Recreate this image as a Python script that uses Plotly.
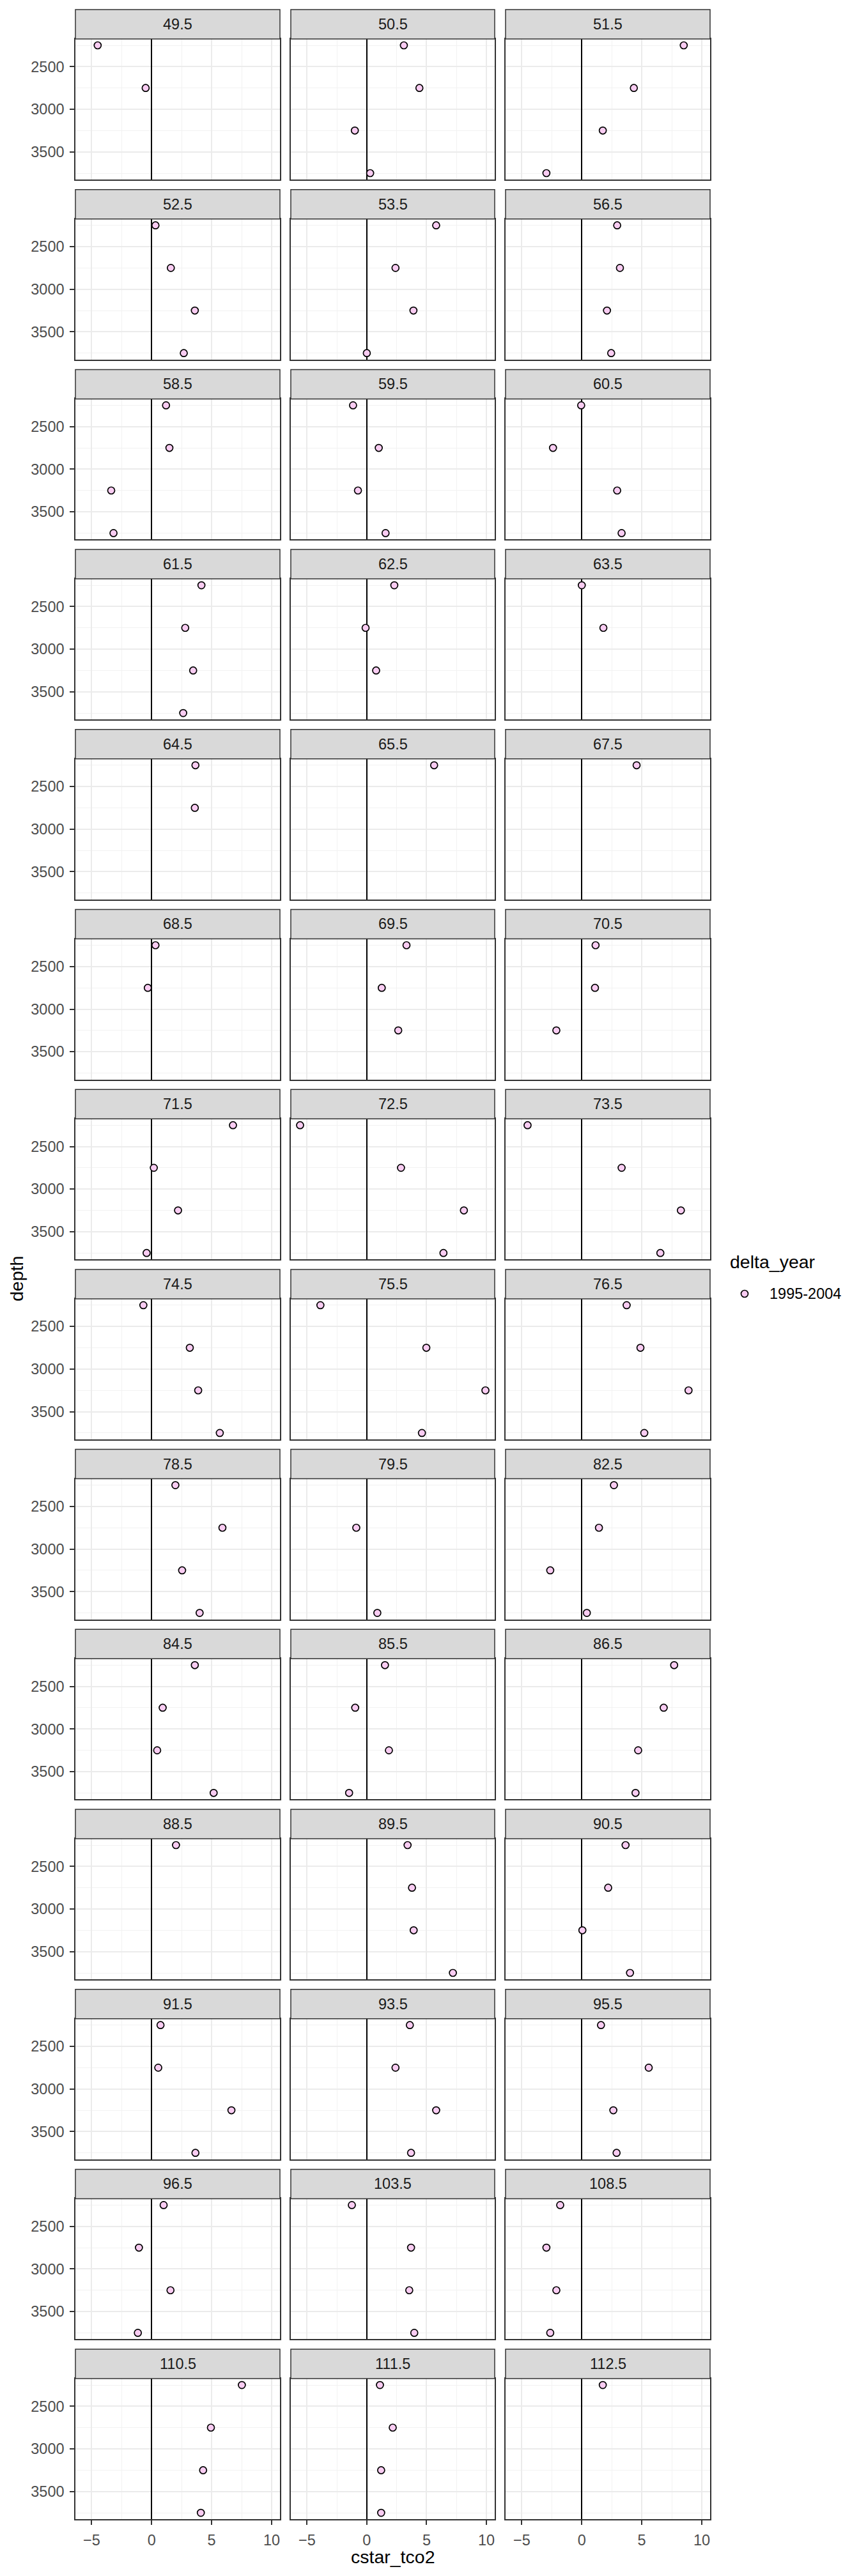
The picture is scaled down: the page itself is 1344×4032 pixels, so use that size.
import plotly.graph_objects as go

# ---------------- data ----------------
panels = ["49.5", "50.5", "51.5", "52.5", "53.5", "56.5", "58.5", "59.5", "60.5",
          "61.5", "62.5", "63.5", "64.5", "65.5", "67.5", "68.5", "69.5", "70.5",
          "71.5", "72.5", "73.5", "74.5", "75.5", "76.5", "78.5", "79.5", "82.5",
          "84.5", "85.5", "86.5", "88.5", "89.5", "90.5", "91.5", "93.5", "95.5",
          "96.5", "103.5", "108.5", "110.5", "111.5", "112.5"]

point_panel = (
    ["49.5"] * 2 + ["50.5"] * 4 + ["51.5"] * 4 + ["52.5"] * 4 + ["53.5"] * 4 + ["56.5"] * 4 +
    ["58.5"] * 4 + ["59.5"] * 4 + ["60.5"] * 4 + ["61.5"] * 4 + ["62.5"] * 3 + ["63.5"] * 2 +
    ["64.5"] * 2 + ["65.5"] * 1 + ["67.5"] * 1 + ["68.5"] * 2 + ["69.5"] * 3 + ["70.5"] * 3 +
    ["71.5"] * 4 + ["72.5"] * 4 + ["73.5"] * 4 + ["74.5"] * 4 + ["75.5"] * 4 + ["76.5"] * 4 +
    ["78.5"] * 4 + ["79.5"] * 2 + ["82.5"] * 4 + ["84.5"] * 4 + ["85.5"] * 4 + ["86.5"] * 4 +
    ["88.5"] * 1 + ["89.5"] * 4 + ["90.5"] * 4 + ["91.5"] * 4 + ["93.5"] * 4 + ["95.5"] * 4 +
    ["96.5"] * 4 + ["103.5"] * 4 + ["108.5"] * 4 + ["110.5"] * 4 + ["111.5"] * 4 + ["112.5"] * 1
)

point_depth = (
    [2250, 2750] + [2250, 2750, 3250, 3750] * 9 + [2250, 2750, 3250] + [2250, 2750] +
    [2250, 2750] + [2250] + [2250] + [2250, 2750] + [2250, 2750, 3250] * 2 +
    [2250, 2750, 3250, 3750] * 7 + [2750, 3750] + [2250, 2750, 3250, 3750] * 4 +
    [2250] + [2250, 2750, 3250, 3750] * 10 + [2250]
)

point_cstar = [
    -4.5, -0.5,
    3.1, 4.4, -1.0, 0.28,
    8.5, 4.34, 1.75, -2.95,
    0.32, 1.6, 3.6, 2.68,
    5.8, 2.4, 3.9, 0.0,
    2.95, 3.18, 2.1, 2.45,
    1.2, 1.48, -3.37, -3.18,
    -1.15, 1.0, -0.74, 1.57,
    -0.05, -2.4, 2.95, 3.32,
    4.15, 2.8, 3.46, 2.63,
    2.3, -0.1, 0.78,
    0.0, 1.8,
    3.65, 3.6,
    5.63,
    4.57,
    0.32, -0.32,
    3.32, 1.25, 2.63,
    1.15, 1.1, -2.12,
    6.78, 0.18, 2.2, -0.42,
    -5.58, 2.86, 8.12, 6.41,
    -4.52, 3.32, 8.26, 6.55,
    -0.69, 3.18, 3.88, 5.68,
    -3.88, 4.98, 9.92, 4.61,
    3.74, 4.89, 8.9, 5.21,
    1.98, 5.9, 2.54, 4.0,
    -0.88, 0.88,
    2.68, 1.43, -2.63, 0.42,
    3.6, 0.92, 0.46, 5.17,
    1.52, -0.97, 1.85, -1.48,
    7.7, 6.83, 4.7, 4.48,
    2.03,
    3.41, 3.78, 3.92, 7.2,
    3.65, 2.2, 0.05, 4.02,
    0.74, 0.55, 6.65, 3.65,
    3.6, 2.4, 5.8, 3.7,
    1.6, 5.58, 2.63, 2.9,
    1.0, -1.06, 1.57, -1.15,
    -1.25, 3.7, 3.55, 3.97,
    -1.8, -2.95, -2.12, -2.63,
    7.52, 4.94, 4.29, 4.1,
    1.1, 2.17, 1.2, 1.2,
    1.75,
]

x_ticks = [-5, 0, 5, 10]
x_minor_ticks = [-2.5, 2.5, 7.5]
y_ticks = [2500, 3000, 3500]
y_minor_ticks = [2250, 2750, 3250, 3750]
legend_title = "delta_year"
legend_label = "1995-2004"
x_title = "cstar_tco2"
y_title = "depth"

# ---------------- layout geometry (pixels) ----------------
W, H = 1344, 4032
col_x = [(118, 438), (455, 774), (791, 1111)]
row_top0, row_pitch, strip_h, panel_h = 15.0, 281.7, 46.0, 220.0
ncol = 3
nrow = (len(panels) + ncol - 1) // ncol

FONT = "Liberation Sans, Arial, Helvetica, sans-serif"
small = 23.5
big = 28.5
fill_col = "#F9CCF2"

def px_x(v):
    return v / W

def px_y(v):
    return 1 - v / H

# scale ranges with ggplot-style 5% expansion
xmin, xmax = min(point_cstar), max(point_cstar)
xpad = (xmax - xmin) * 0.05
x_range = [xmin - xpad, xmax + xpad]
dmin, dmax = min(point_depth), max(point_depth)
dpad = (dmax - dmin) * 0.05
y_range = [dmax + dpad, dmin - dpad]  # reversed

fig = go.Figure()
shapes = []
annotations = []
layout_axes = {}

for i, p in enumerate(panels):
    r, c = divmod(i, ncol)
    k = i + 1
    xa = "x" if k == 1 else f"x{k}"
    ya = "y" if k == 1 else f"y{k}"
    xs = [v for pp, v in zip(point_panel, point_cstar) if pp == p]
    ys = [d for pp, d in zip(point_panel, point_depth) if pp == p]
    fig.add_trace(go.Scatter(
        x=xs, y=ys, mode="markers", xaxis=xa, yaxis=ya, showlegend=False,
        marker=dict(size=11, color=fill_col, line=dict(color="black", width=1.7)),
        hovertemplate="cstar_tco2=%{x}<br>depth=%{y}<extra>" + p + "</extra>",
    ))

    x0, x1 = col_x[c]
    st = row_top0 + r * row_pitch
    pt = st + strip_h
    pb = pt + panel_h
    bottom_row = (r == nrow - 1)
    left_col = (c == 0)

    layout_axes["xaxis" if k == 1 else f"xaxis{k}"] = dict(
        domain=[px_x(x0), px_x(x1)], anchor=ya, range=x_range,
        tickmode="array", tickvals=x_ticks,
        showticklabels=bottom_row, ticks="outside" if bottom_row else "",
        ticklen=7, tickwidth=1.5, tickcolor="#333333", ticklabelstandoff=4,
        tickfont=dict(family=FONT, size=small, color="#4D4D4D"),
        showgrid=True, gridcolor="#EBEBEB", gridwidth=2,
        minor=dict(tickmode="array", tickvals=x_minor_ticks, showgrid=True,
                   gridcolor="#F2F2F2", gridwidth=1, ticks=""),
        zeroline=True, zerolinecolor="black", zerolinewidth=2.2,
        showline=True, mirror=True, linecolor="#333333", linewidth=1.5,
        fixedrange=True,
    )
    layout_axes["yaxis" if k == 1 else f"yaxis{k}"] = dict(
        domain=[px_y(pb), px_y(pt)], anchor=xa, range=y_range,
        tickmode="array", tickvals=y_ticks,
        showticklabels=left_col, ticks="outside" if left_col else "",
        ticklen=7, tickwidth=1.5, tickcolor="#333333", ticklabelstandoff=4,
        tickfont=dict(family=FONT, size=small, color="#4D4D4D"),
        showgrid=True, gridcolor="#EBEBEB", gridwidth=2,
        minor=dict(tickmode="array", tickvals=y_minor_ticks, showgrid=True,
                   gridcolor="#F2F2F2", gridwidth=1, ticks=""),
        zeroline=False,
        showline=True, mirror=True, linecolor="#333333", linewidth=1.5,
        fixedrange=True,
    )

    # facet strip
    shapes.append(dict(type="rect", xref="paper", yref="paper",
                       x0=px_x(x0), x1=px_x(x1), y0=px_y(pt), y1=px_y(st),
                       fillcolor="#D9D9D9", line=dict(color="#333333", width=1.5),
                       layer="above"))
    annotations.append(dict(text=p, xref="paper", yref="paper",
                            x=px_x((x0 + x1) / 2), y=px_y(st + strip_h / 2),
                            xanchor="center", yanchor="middle", showarrow=False,
                            font=dict(family=FONT, size=small, color="#1A1A1A")))

# axis titles
annotations.append(dict(text=x_title, xref="paper", yref="paper",
                        x=px_x((col_x[0][0] + col_x[-1][1]) / 2), y=px_y(4002),
                        xanchor="center", yanchor="middle", showarrow=False,
                        font=dict(family=FONT, size=big, color="black")))
annotations.append(dict(text=y_title, xref="paper", yref="paper",
                        x=px_x(26), y=px_y(2002), textangle=-90,
                        xanchor="center", yanchor="middle", showarrow=False,
                        font=dict(family=FONT, size=big, color="black")))

# legend (drawn manually)
annotations.append(dict(text=legend_title, xref="paper", yref="paper",
                        x=px_x(1140), y=px_y(1975), xanchor="left", yanchor="middle",
                        showarrow=False, font=dict(family=FONT, size=big, color="black")))
annotations.append(dict(text=legend_label, xref="paper", yref="paper",
                        x=px_x(1202), y=px_y(2025), xanchor="left", yanchor="middle",
                        showarrow=False, font=dict(family=FONT, size=small, color="black")))
shapes.append(dict(type="circle", xref="paper", yref="paper",
                   xsizemode="pixel", ysizemode="pixel",
                   xanchor=px_x(1165), yanchor=px_y(2025),
                   x0=-5.5, x1=5.5, y0=-5.5, y1=5.5,
                   fillcolor=fill_col, line=dict(color="black", width=1.7)))

fig.update_layout(
    width=W, height=H, margin=dict(l=0, r=0, t=0, b=0),
    paper_bgcolor="white", plot_bgcolor="white",
    showlegend=False, shapes=shapes, annotations=annotations,
    font=dict(family=FONT),
    **layout_axes,
)

fig.write_html("out.html",
               config={"displayModeBar": False},
               post_script="document.body.style.margin='0';document.body.style.padding='0';")
